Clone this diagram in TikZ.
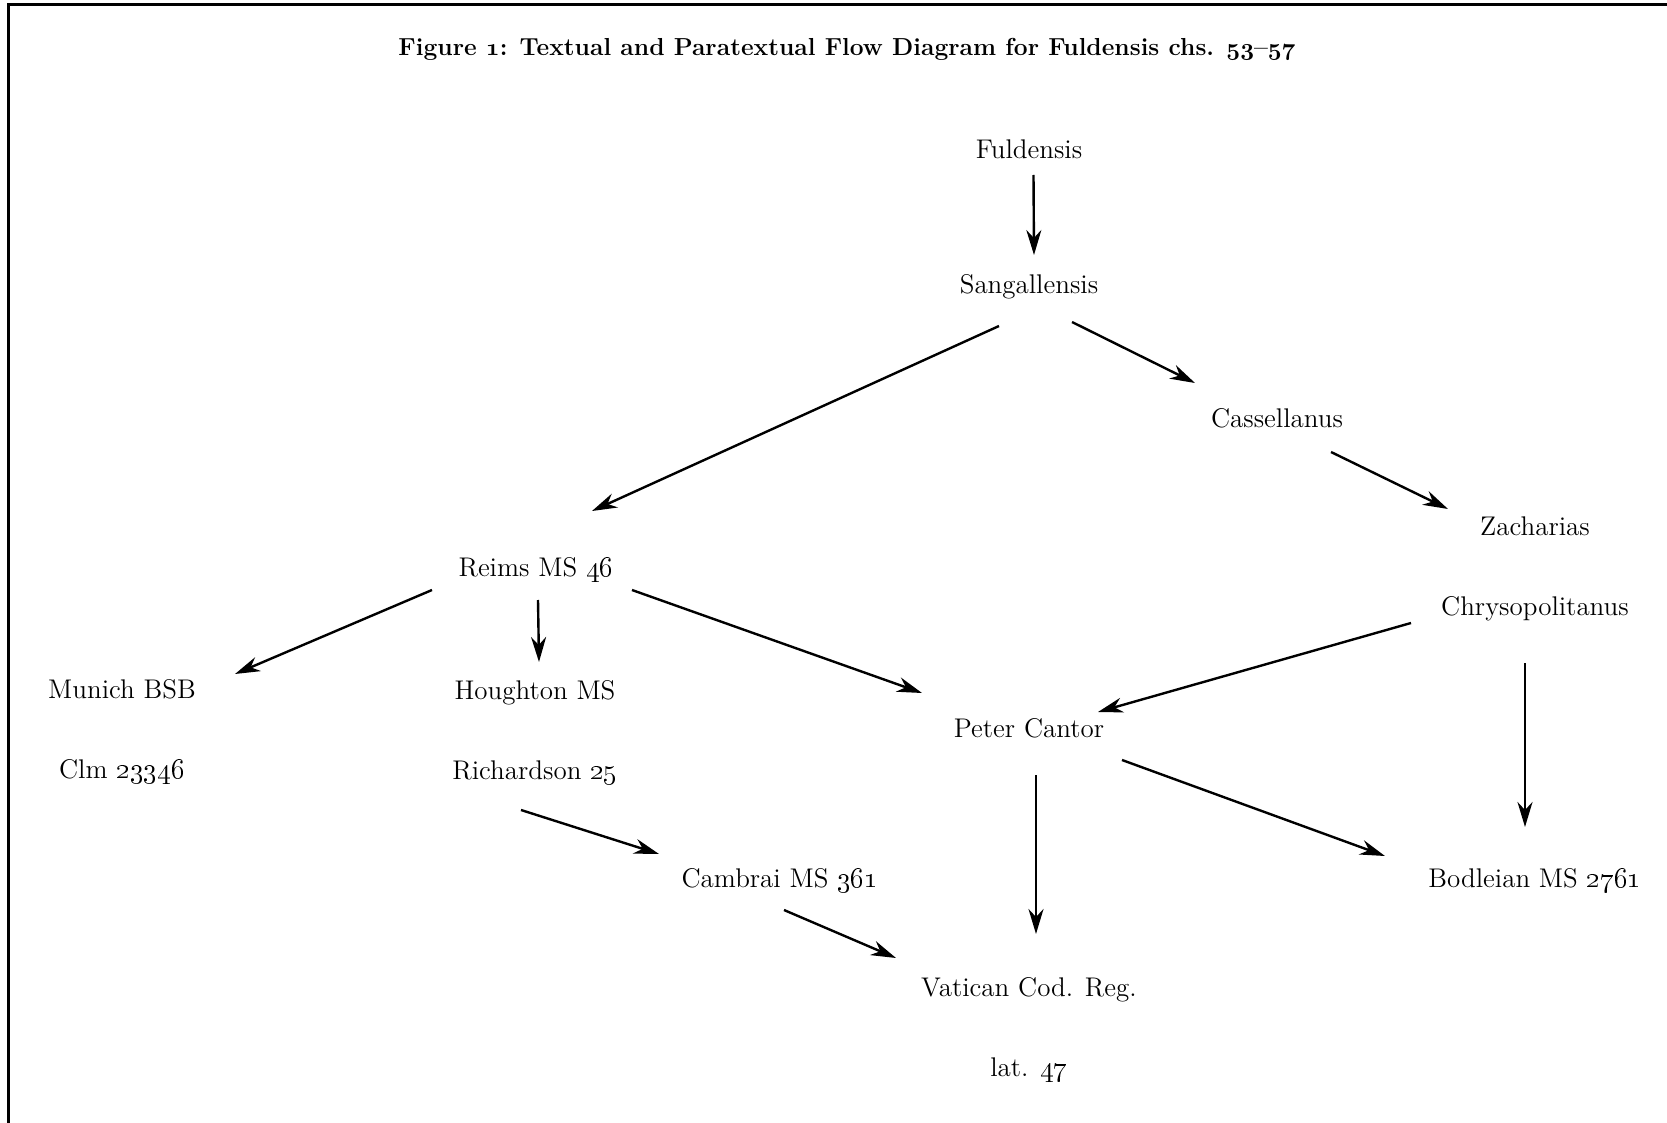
\documentclass[tikz,border=0pt]{standalone}
\usetikzlibrary{arrows.meta,calc}
\newcommand{\osn}[1]{\oldstylenums{#1}}
\newcommand{\osnb}[1]{\mbox{\boldmath$\mathnormal{#1}$}}

\begin{document}
\begin{tikzpicture}[
  x=0.5pt, y=-0.5pt,
  ms/.style={font=\fontsize{13.5}{16}\selectfont, inner sep=0pt, text depth=0pt},
  ms1/.style={ms, text height=9.3pt},
  ms2/.style={ms, align=center},
  arrow/.style={-{Stealth[length=12.5pt, width=7.5pt, inset=4pt]}, line width=1.2pt}
]
\useasboundingbox (0,0) rectangle (1667,1123);
\draw[line width=1.5pt] (8.7,1123) -- (8.7,4.8) -- (1667,4.8);
\node[font=\bfseries\fontsize{12.3}{15}\selectfont, inner sep=0pt, text height=8.4pt, text depth=0pt] (title) at (847,47)
  {Figure \osnb{1}: Textual and Paratextual Flow Diagram for Fuldensis chs. \osnb{53}--\osnb{57}};
% manuscripts
\node[ms1] (fuld) at (1029,149) {Fuldensis};
\node[ms1] (sang) at (1029,284) {Sangallensis};
\node[ms1] (cass) at (1277,418) {Cassellanus};
\node[ms2] (zach) at (1535,566) {Zacharias\\[24pt]Chrysopolitanus};
\node[ms1] (reims) at (536,567) {Reims MS \osn{46}};
\node[ms2] (munich) at (122,729) {Munich BSB\\[24pt]Clm \osn{23346}};
\node[ms2] (hought) at (535,729.5) {Houghton MS\\[24pt]Richardson \osn{25}};
\node[ms1] (peter) at (1029,728) {Peter Cantor};
\node[ms1] (cambr) at (780,878) {Cambrai MS \osn{361}};
\node[ms1] (bodl) at (1535,878) {Bodleian MS \osn{2761}};
\node[ms2] (vatic) at (1029,1026.5) {Vatican Cod. Reg.\\[24pt]lat. \osn{47}};
% transmission
\draw[arrow] ($(fuld)+(4.5,26)$) -- ($(sang)+(5,-29)$);
\draw[arrow] ($(sang)+(-30,42)$) -- ($(reims)+(56,-56)$);
\draw[arrow] ($(sang)+(43,38)$) -- ($(cass)+(-82,-35)$);
\draw[arrow] ($(cass)+(54,34)$) -- ($(zach)+(-87,-57)$);
\draw[arrow] ($(reims)+(-104,23)$) -- ($(munich)+(113,-55)$);
\draw[arrow] ($(reims)+(2,33)$) -- ($(hought)+(4,-67.5)$);
\draw[arrow] ($(reims)+(96,23)$) -- ($(peter)+(-107,-35)$);
\draw[arrow] ($(zach)+(-124,57)$) -- ($(peter)+(69,-16)$);
\draw[arrow] ($(zach)+(-10,97)$) -- ($(bodl)+(-10,-51)$);
\draw[arrow] ($(peter)+(93,32)$) -- ($(bodl)+(-150,-22)$);
\draw[arrow] ($(peter)+(7,47)$) -- ($(vatic)+(7,-92.5)$);
\draw[arrow] ($(hought)+(-14,80.5)$) -- ($(cambr)+(-121,-24)$);
\draw[arrow] ($(cambr)+(4,32)$) -- ($(vatic)+(-133,-68.5)$);
\end{tikzpicture}
\end{document}
